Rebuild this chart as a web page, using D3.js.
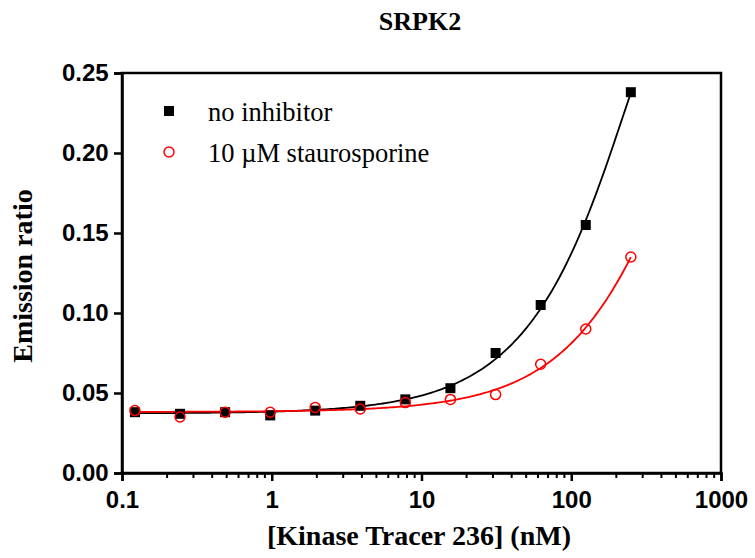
<!DOCTYPE html><html><head><script src="https://cdn.jsdelivr.net/npm/d3@7"></script>
<style>body{margin:0;background:#fff}</style></head><body><svg id="c" width="755" height="558"></svg>
<script>
const conc=[0.122,0.244,0.488,0.977,1.95,3.9,7.8,15.6,31.25,62.5,125,250];
const noInhib=[0.038,0.037,0.038,0.036,0.039,0.042,0.046,0.053,0.075,0.105,0.155,0.238];
const stauro=[0.039,0.035,0.038,0.038,0.041,0.040,0.044,0.046,0.049,0.068,0.090,0.135];
const xTicks=[0.1,1,10,100,1000];
const yTicks=[0,0.05,0.1,0.15,0.2,0.25];
const svg=d3.select("#c");
const x=d3.scaleLog().domain([0.1,1000]).range([122,721]);
const y=d3.scaleLinear().domain([0,0.25]).range([473,73]);
const g=svg.append("g");
g.append("rect").attr("x",122).attr("y",73).attr("width",599).attr("height",400).attr("fill","none").attr("stroke","#000").attr("stroke-width",2.5);
const xa=g.append("g").attr("transform","translate(0,473)").call(d3.axisBottom(x).tickValues(xTicks).tickFormat(d=>String(d)).tickSizeOuter(0).tickSize(8));
const ya=g.append("g").attr("transform","translate(122,0)").call(d3.axisLeft(y).tickValues(yTicks).tickFormat(d3.format(".2f")).tickSizeOuter(0).tickSize(8));
const minor=[];for(let e=-1;e<3;e++)for(let k=2;k<10;k++)minor.push(k*Math.pow(10,e));
g.append("g").selectAll("line").data(minor).join("line").attr("x1",d=>x(d)).attr("x2",d=>x(d)).attr("y1",473).attr("y2",478).attr("stroke","#000").attr("stroke-width",2);
[xa,ya].forEach(a=>{a.selectAll("path,line").attr("stroke","#000").attr("stroke-width",2.5);a.selectAll("text").attr("font-family","Liberation Sans,Arial").attr("font-weight","bold").attr("font-size",24).attr("fill","#000");});
xa.selectAll("text").attr("dy","1.0em");
ya.selectAll("text").attr("dx","-0.1em");
function fit(xs,ys){let S=[[0,0,0],[0,0,0],[0,0,0]],T=[0,0,0];xs.forEach((xi,i)=>{const p=[1,xi,xi*xi];for(let a=0;a<3;a++){T[a]+=p[a]*ys[i];for(let b=0;b<3;b++)S[a][b]+=p[a]*p[b];}});
 const M=S.map((r,i)=>[...r,T[i]]);for(let i=0;i<3;i++){for(let j=i+1;j<3;j++){const f=M[j][i]/M[i][i];for(let k=i;k<4;k++)M[j][k]-=f*M[i][k];}}
 const c=[0,0,0];for(let i=2;i>=0;i--){let s=M[i][3];for(let k=i+1;k<3;k++)s-=M[i][k]*c[k];c[i]=s/M[i][i];}return c;}
const line=d3.line().x(d=>x(d[0])).y(d=>y(d[1]));
function curve(ys,col){const c=fit(conc,ys);const pts=d3.range(0,201).map(i=>{const xv=Math.pow(10,Math.log10(0.122)+i/200*(Math.log10(250)-Math.log10(0.122)));return [xv,c[0]+c[1]*xv+c[2]*xv*xv];});
 g.append("path").attr("d",line(pts)).attr("fill","none").attr("stroke",col).attr("stroke-width",1.8);}
curve(noInhib,"#000");curve(stauro,"#ff0000");
g.selectAll(".sq").data(conc).join("rect").attr("x",(d)=>x(d)-5).attr("y",(d,i)=>y(noInhib[i])-5).attr("width",10).attr("height",10).attr("fill","#000");
g.selectAll(".ci").data(conc).join("circle").attr("cx",d=>x(d)).attr("cy",(d,i)=>y(stauro[i])).attr("r",5).attr("fill","none").attr("stroke","#ff0000").attr("stroke-width",1.5);
g.append("rect").attr("x",164).attr("y",106).attr("width",10).attr("height",10);
g.append("circle").attr("cx",169).attr("cy",152).attr("r",5).attr("fill","none").attr("stroke","#ff0000").attr("stroke-width",1.5);
const ser="Liberation Serif,Times New Roman";
g.append("text").attr("x",208).attr("y",121).text("no inhibitor").attr("font-family",ser).attr("font-size",26.5);
g.append("text").attr("x",208).attr("y",162).text("10 µM staurosporine").attr("font-family",ser).attr("font-size",26.5);
g.append("text").attr("x",420).attr("y",30).attr("text-anchor","middle").text("SRPK2").attr("font-family",ser).attr("font-weight","bold").attr("font-size",26);
g.append("text").attr("x",419).attr("y",545).attr("text-anchor","middle").text("[Kinase Tracer 236] (nM)").attr("font-family",ser).attr("font-weight","bold").attr("font-size",28);
g.append("text").attr("transform","translate(32,276) rotate(-90)").attr("text-anchor","middle").text("Emission ratio").attr("font-family",ser).attr("font-weight","bold").attr("font-size",28);
</script></body></html>
